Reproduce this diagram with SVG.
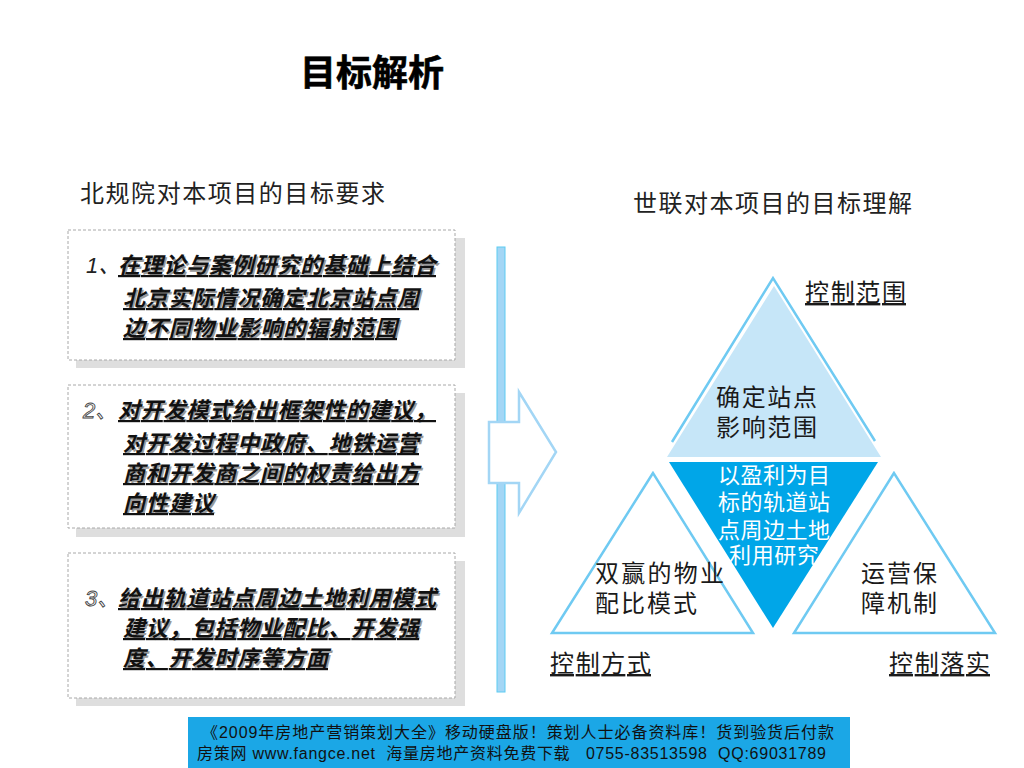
<svg xmlns="http://www.w3.org/2000/svg" width="1024" height="768" viewBox="0 0 1024 768">
<style>
.cjk{font-family:"Liberation Sans","Noto Sans CJK SC",sans-serif;}
.box{fill:#fff;stroke:#a8a8a8;stroke-width:1;stroke-dasharray:3 2;}
.shadow{fill:#dedede;}
.req{font-family:"Liberation Sans","Noto Sans CJK SC",sans-serif;font-size:22px;font-weight:bold;font-style:italic;fill:#111;text-decoration:underline;}
.reqs{font-family:"Liberation Sans","Noto Sans CJK SC",sans-serif;font-size:22px;font-weight:bold;font-style:italic;fill:#9a9a9a;}
.num{font-family:"Liberation Sans","Noto Sans CJK SC",sans-serif;font-size:22px;font-style:italic;fill:#fff;stroke:#444;stroke-width:0.9;}
.head{font-family:"Liberation Sans","Noto Sans CJK SC",sans-serif;font-size:24px;fill:#222;}
.tri{fill:none;stroke:#6fcaf2;stroke-width:2.5;}
.lbl{font-family:"Liberation Sans","Noto Sans CJK SC",sans-serif;font-size:24px;fill:#1a1a1a;}
.ctl{font-family:"Liberation Sans","Noto Sans CJK SC",sans-serif;font-size:24px;fill:#1a1a1a;text-decoration:underline;}
.wht{font-family:"Liberation Sans","Noto Sans CJK SC",sans-serif;font-size:22px;fill:#fff;text-anchor:middle;}
.foot{font-family:"Liberation Sans","Noto Sans CJK SC",sans-serif;font-size:16px;fill:#111;}
</style>
<rect width="1024" height="768" fill="#fff"/>

<g id="title">
<text class="cjk" x="300" y="86" font-size="36" font-weight="bold" fill="#000" stroke="#000" stroke-width="0.6" textLength="144" lengthAdjust="spacingAndGlyphs">目标解析</text>
</g>

<g id="header-left">
<text class="head" x="80" y="202" textLength="305" lengthAdjust="spacing">北规院对本项目的目标要求</text>
</g>
<g id="header-right">
<text class="head" x="633" y="212" textLength="279" lengthAdjust="spacing">世联对本项目的目标理解</text>
</g>

<g id="req1">
<rect class="shadow" x="76" y="238" width="389" height="130"/>
<rect class="box" x="68" y="230" width="387" height="130"/>
<text class="cjk" x="86" y="273" font-size="22" font-style="italic" fill="#222">1、</text>
<text class="reqs" x="119.5" y="274.5" textLength="318" lengthAdjust="spacing">在理论与案例研究的基础上结合</text>
<text class="req" x="118" y="273" textLength="318" lengthAdjust="spacing">在理论与案例研究的基础上结合</text>
<text class="reqs" x="124.5" y="307.5" textLength="296" lengthAdjust="spacing">北京实际情况确定北京站点周</text>
<text class="req" x="123" y="306" textLength="296" lengthAdjust="spacing">北京实际情况确定北京站点周</text>
<text class="reqs" x="124.5" y="337.5" textLength="274" lengthAdjust="spacing">边不同物业影响的辐射范围</text>
<text class="req" x="123" y="336" textLength="274" lengthAdjust="spacing">边不同物业影响的辐射范围</text>
</g>

<g id="req2">
<rect class="shadow" x="76" y="393" width="389" height="144"/>
<rect class="box" x="68" y="385" width="387" height="143"/>
<text class="num" x="83" y="418">2、</text>
<text class="reqs" x="119.5" y="419.5" textLength="318" lengthAdjust="spacing">对开发模式给出框架性的建议，</text>
<text class="req" x="118" y="418" textLength="318" lengthAdjust="spacing">对开发模式给出框架性的建议，</text>
<text class="reqs" x="124.5" y="452.5" textLength="296" lengthAdjust="spacing">对开发过程中政府、地铁运营</text>
<text class="req" x="123" y="451" textLength="296" lengthAdjust="spacing">对开发过程中政府、地铁运营</text>
<text class="reqs" x="124.5" y="482.5" textLength="296" lengthAdjust="spacing">商和开发商之间的权责给出方</text>
<text class="req" x="123" y="481" textLength="296" lengthAdjust="spacing">商和开发商之间的权责给出方</text>
<text class="reqs" x="124.5" y="512.5" textLength="91" lengthAdjust="spacing">向性建议</text>
<text class="req" x="123" y="511" textLength="91" lengthAdjust="spacing">向性建议</text>
</g>

<g id="req3">
<rect class="shadow" x="76" y="561" width="389" height="145"/>
<rect class="box" x="68" y="553" width="387" height="145"/>
<text class="num" x="85" y="606">3、</text>
<text class="reqs" x="119.5" y="607.5" textLength="318" lengthAdjust="spacing">给出轨道站点周边土地利用模式</text>
<text class="req" x="118" y="606" textLength="318" lengthAdjust="spacing">给出轨道站点周边土地利用模式</text>
<text class="reqs" x="124.5" y="637.5" textLength="296" lengthAdjust="spacing">建议，包括物业配比、开发强</text>
<text class="req" x="123" y="636" textLength="296" lengthAdjust="spacing">建议，包括物业配比、开发强</text>
<text class="reqs" x="124.5" y="667.5" textLength="205" lengthAdjust="spacing">度、开发时序等方面</text>
<text class="req" x="123" y="666" textLength="205" lengthAdjust="spacing">度、开发时序等方面</text>
</g>

<g id="connectors">
<rect x="497" y="247" width="8" height="175" fill="#a3d6f5" stroke="#5ccbf2" stroke-width="1"/>
<rect x="497" y="483" width="8" height="209" fill="#a3d6f5" stroke="#5ccbf2" stroke-width="1"/>
<polygon points="489,422 519,422 519,392 556,452 519,513 519,483 489,483" fill="#fff" stroke="#a3d6f5" stroke-width="2.5" stroke-linejoin="miter"/>
</g>

<g id="tri-top">
<polygon points="774,286 667,457 881,457" fill="#c6e6f8"/>
<polyline class="tri" points="672,442 773,278 875,441"/>
<text class="lbl" x="716" y="406" textLength="101" lengthAdjust="spacing">确定站点</text>
<text class="lbl" x="716" y="436" textLength="101" lengthAdjust="spacing">影响范围</text>
</g>

<g id="tri-center">
<polygon points="669,462 878,462 773,628" fill="#00a6e8"/>
<text class="wht" x="774" y="483" textLength="112" lengthAdjust="spacing">以盈利为目</text>
<text class="wht" x="774" y="510" textLength="112" lengthAdjust="spacing">标的轨道站</text>
<text class="wht" x="774" y="538" textLength="112" lengthAdjust="spacing">点周边土地</text>
<text class="wht" x="774" y="563" textLength="90" lengthAdjust="spacing">利用研究</text>
</g>

<g id="tri-left">
<polygon class="tri" points="653,473 552,633 753,633"/>
<text class="lbl" x="595" y="582" textLength="129" lengthAdjust="spacing">双赢的物业</text>
<text class="lbl" x="595" y="612" textLength="102" lengthAdjust="spacing">配比模式</text>
</g>

<g id="tri-right">
<polygon class="tri" points="894,473 794,633 995,633"/>
<text class="lbl" x="861" y="582" textLength="76" lengthAdjust="spacing">运营保</text>
<text class="lbl" x="861" y="612" textLength="76" lengthAdjust="spacing">障机制</text>
</g>

<g id="label-scope">
<text class="ctl" x="805" y="301" textLength="101" lengthAdjust="spacing">控制范围</text>
</g>
<g id="label-method">
<text class="ctl" x="550" y="672" textLength="101" lengthAdjust="spacing">控制方式</text>
</g>
<g id="label-implement">
<text class="ctl" x="889" y="672" textLength="101" lengthAdjust="spacing">控制落实</text>
</g>

<g id="footer">
<rect x="188" y="717" width="662" height="51" fill="#1ba7e6"/>
<text class="foot" x="202" y="738" textLength="632" lengthAdjust="spacing">《2009年房地产营销策划大全》移动硬盘版！策划人士必备资料库！货到验货后付款</text>
<text class="foot" x="197" y="759" textLength="629" lengthAdjust="spacing" xml:space="preserve">房策网 www.fangce.net  海量房地产资料免费下载   0755-83513598  QQ:69031789</text>
</g>
</svg>
